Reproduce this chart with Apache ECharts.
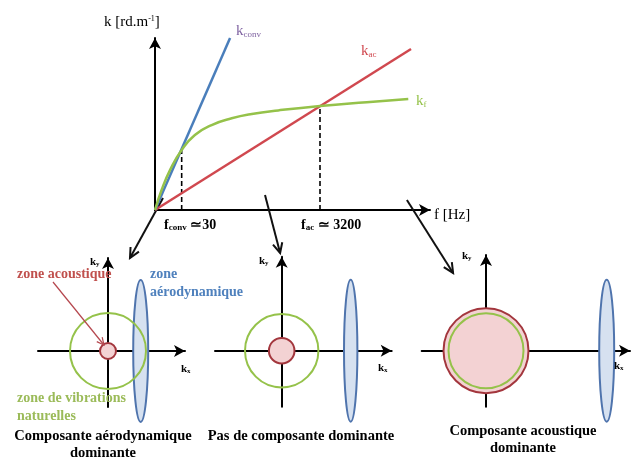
<!DOCTYPE html>
<html><head><meta charset="utf-8">
<script src="https://cdn.jsdelivr.net/npm/echarts@6/dist/echarts.min.js"></script>
<style>html,body{margin:0;padding:0;background:#fff}#c{width:635px;height:457px}</style>
</head><body><div id="c"></div>
<script>
// ---- data (schematic units) ----
const kConv = [[0,0],[2.73,10]];
const kAc = [[0,0],[9.31,9.36]];
const kF = [[0,0],[0.24,1.16],[0.55,2.33],[0.97,3.49],[1.45,4.36],[2.06,4.94],[2.79,5.33],[3.52,5.58],[4.48,5.79],[6.0,6.05],[7.7,6.27],[9.21,6.45]];
const dropLines = [[0.97,3.53],[6.0,6.05]];
const transitionArrows = [[0.29,0.7,-0.91,-2.79],[4.0,0.87,4.55,-2.5],[9.16,0.58,10.84,-3.66]];
const panelXRange = [[-70,77],[-66.7,110],[-64.3,144]];
const panelYRange = [[-56,93],[-56,94],[-56,95.7]];
const acousticRadius = [8,12.8,42.5];
const vibrationRadius = [38,36.7,37.5];
const aeroCenterX = [32.7,69,120.7];
const aeroHalfWidth = [7.5,6.7,7.5];
const aeroHalfHeight = [71,71,71];
const panelCaptions = ['Composante aérodynamique\ndominante','Pas de composante dominante','Composante acoustique\ndominante'];

const C_BLUE = '#4a7ebb', C_RED = '#d0484f', C_GREEN = '#95c24a', C_PURPLE = '#8064a2';
const SERIF = '"Liberation Serif", "Times New Roman", serif';

const grids = [
  {left:155, top:38, width:275, height:172},
  {left:38, top:258, width:147, height:149},
  {left:215, top:256.7, width:176.7, height:150},
  {left:421.7, top:255, width:208.3, height:151.7}
];
function axis(gi, min, max) {
  return {type:'value', gridIndex:gi, min, max,
    axisLine:{show:true, onZero:true, symbol:['none','arrow'], symbolSize:[9,11], lineStyle:{color:'#000', width:2}},
    axisTick:{show:false}, axisLabel:{show:false}, splitLine:{show:false}};
}
const xAxes = [axis(0,0,10)], yAxes = [axis(0,0,10)];
for (let i=0;i<3;i++){ xAxes.push(axis(i+1, panelXRange[i][0], panelXRange[i][1])); yAxes.push(axis(i+1, panelYRange[i][0], panelYRange[i][1])); }

const series = [];
series.push({type:'line', xAxisIndex:0, yAxisIndex:0, data:kAc, symbol:'none', lineStyle:{color:C_RED, width:2.5}});
series.push({type:'line', xAxisIndex:0, yAxisIndex:0, data:kConv, symbol:'none', lineStyle:{color:C_BLUE, width:2.5}});
series.push({type:'line', xAxisIndex:0, yAxisIndex:0, data:kF, symbol:'none', smooth:0.5, lineStyle:{color:C_GREEN, width:2.5}});
dropLines.forEach(p => series.push({type:'line', xAxisIndex:0, yAxisIndex:0, data:[[p[0],0],[p[0],p[1]]], symbol:'none', z:1,
  lineStyle:{color:'#000', width:1.6, type:[5,3]}}));

function arrowItem(color, width, head) {
  return function(params, api) {
    const a = api.coord([api.value(0), api.value(1)]);
    const b = api.coord([api.value(2), api.value(3)]);
    const ang = Math.atan2(b[1]-a[1], b[0]-a[0]);
    const L = head, w = 0.45;
    const p1 = [b[0]-L*Math.cos(ang-w), b[1]-L*Math.sin(ang-w)];
    const p2 = [b[0]-L*Math.cos(ang+w), b[1]-L*Math.sin(ang+w)];
    return {type:'group', children:[
      {type:'line', shape:{x1:a[0],y1:a[1],x2:b[0],y2:b[1]}, style:{stroke:color, lineWidth:width}},
      {type:'polyline', shape:{points:[p1,b,p2]}, style:{stroke:color, lineWidth:width, fill:null}}
    ]};
  };
}
series.push({type:'custom', xAxisIndex:0, yAxisIndex:0, clip:false, data:transitionArrows, renderItem:arrowItem('#111', 2, 11)});

for (let i=0;i<3;i++){
  const gi = i+1;
  series.push({type:'custom', xAxisIndex:gi, yAxisIndex:gi, clip:false, data:[[aeroCenterX[i],0,aeroHalfWidth[i],aeroHalfHeight[i]]],
    renderItem:function(params, api){
      const c = api.coord([api.value(0), api.value(1)]);
      const s = api.size([api.value(2), api.value(3)]);
      const rx=s[0], ry=s[1];
      const d = 'M'+(c[0]-rx)+' '+c[1]+' A'+rx+' '+ry+' 0 1 0 '+(c[0]+rx)+' '+c[1]+' A'+rx+' '+ry+' 0 1 0 '+(c[0]-rx)+' '+c[1]+' Z';
      return {type:'path', shape:{pathData:d}, style:{fill:'#d6e1f0', stroke:'#4f74ad', lineWidth:2}};
    }});
  series.push({type:'custom', xAxisIndex:gi, yAxisIndex:gi, clip:false, data:[[0,0,acousticRadius[i]]],
    renderItem:function(params, api){
      const c = api.coord([api.value(0), api.value(1)]);
      const r = api.size([api.value(2), api.value(2)])[0];
      return {type:'circle', shape:{cx:c[0], cy:c[1], r}, style:{fill:'#f3d2d3', stroke:'#a3363d', lineWidth:2}};
    }});
  series.push({type:'custom', xAxisIndex:gi, yAxisIndex:gi, clip:false, data:[[0,0,vibrationRadius[i]]],
    renderItem:function(params, api){
      const c = api.coord([api.value(0), api.value(1)]);
      const r = api.size([api.value(2), api.value(2)])[0];
      return {type:'circle', shape:{cx:c[0], cy:c[1], r}, style:{fill:null, stroke:C_GREEN, lineWidth:2}};
    }});
}
// annotation arrow "zone acoustique" -> acoustic circle (panel 1 units)
series.push({type:'custom', xAxisIndex:1, yAxisIndex:1, clip:false, data:[[-55,69,-4,6]], renderItem:arrowItem('#b5474e', 1.2, 8)});

function txt(x, y, text, st) {
  return {type:'text', x, y, z:100, style:Object.assign({text, fontFamily:SERIF, fontSize:15, fill:'#000', verticalAlign:'middle', align:'left'}, st||{})};
}
const sub = {fontSize:9, padding:[7,0,0,0], fontFamily:SERIF};
const bsub = {fontSize:9, padding:[6,0,0,0], fontFamily:SERIF, fontWeight:'bold'};
const kxy = {n:{fontSize:11,fontFamily:SERIF,fontWeight:'bold'}, s:{fontSize:7,padding:[5,0,0,0],fontWeight:'bold',fontFamily:SERIF}};
const graphic = [
  txt(104, 22, '{n|k [rd.m}{p|-1}{n|]}', {rich:{n:{fontSize:15,fontFamily:SERIF}, p:{fontSize:8,padding:[0,0,7,0],fontFamily:SERIF}}}),
  txt(236, 31, '{n|k}{s|conv}', {fill:C_PURPLE, rich:{n:{fontSize:15,fontFamily:SERIF}, s:sub}}),
  txt(361, 51, '{n|k}{s|ac}', {fill:C_RED, rich:{n:{fontSize:15,fontFamily:SERIF}, s:sub}}),
  txt(416, 101, '{n|k}{s|f}', {fill:C_GREEN, rich:{n:{fontSize:15,fontFamily:SERIF}, s:sub}}),
  txt(434, 215, 'f [Hz]', {fontSize:15}),
  txt(164, 225, '{n|f}{s|conv}{n| ≃30}', {fontWeight:'bold', rich:{n:{fontSize:14,fontFamily:SERIF,fontWeight:'bold'}, s:bsub}}),
  txt(301, 225, '{n|f}{s|ac}{n| ≃ 3200}', {fontWeight:'bold', rich:{n:{fontSize:14,fontFamily:SERIF,fontWeight:'bold'}, s:bsub}}),
  txt(90, 262, '{n|k}{s|y}', {rich:kxy}),
  txt(181, 369, '{n|k}{s|x}', {rich:kxy}),
  txt(17, 274, 'zone acoustique', {fill:'#c0504d', fontWeight:'bold', fontSize:14}),
  txt(150, 265, 'zone\naérodynamique', {fill:'#4f81bd', fontWeight:'bold', fontSize:14, lineHeight:18, verticalAlign:'top'}),
  txt(17, 389, 'zone de vibrations\nnaturelles', {fill:'#9bbb59', fontWeight:'bold', fontSize:14, lineHeight:18, verticalAlign:'top'}),
  txt(259, 261, '{n|k}{s|y}', {rich:kxy}),
  txt(378, 368, '{n|k}{s|x}', {rich:kxy}),
  txt(462, 256, '{n|k}{s|y}', {rich:kxy}),
  txt(614, 366, '{n|k}{s|x}', {rich:kxy}),
  txt(103, 428, panelCaptions[0], {fontWeight:'bold', fontSize:14.5, align:'center', verticalAlign:'top', lineHeight:17}),
  txt(301, 428, panelCaptions[1], {fontWeight:'bold', fontSize:14.5, align:'center', verticalAlign:'top', lineHeight:17}),
  txt(523, 423, panelCaptions[2], {fontWeight:'bold', fontSize:14.5, align:'center', verticalAlign:'top', lineHeight:17})
];

const chart = echarts.init(document.getElementById('c'), null, {renderer:'canvas'});
chart.setOption({animation:false, backgroundColor:'#fff', grid:grids, xAxis:xAxes, yAxis:yAxes, series, graphic});
</script></body></html>
